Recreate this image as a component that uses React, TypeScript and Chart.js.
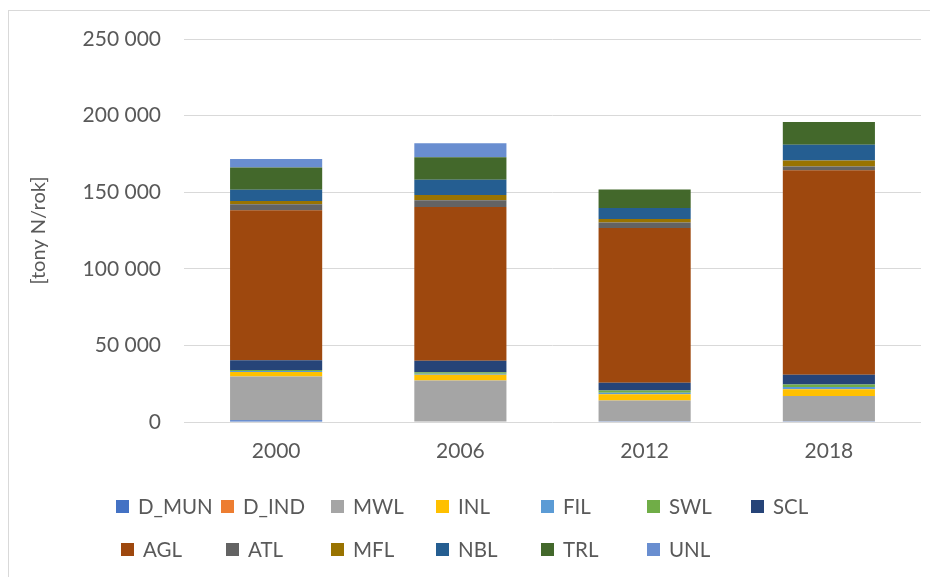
import React, { useEffect, useRef } from 'react';
import { Chart, registerables } from 'chart.js';

Chart.register(...registerables);

const years = ['2000', '2006', '2012', '2018'];
const seriesNames = ['D_MUN', 'D_IND', 'MWL', 'INL', 'FIL', 'SWL', 'SCL', 'AGL', 'ATL', 'MFL', 'NBL', 'TRL', 'UNL'];
const seriesColors = ['#4472C4', '#ED7D31', '#A5A5A5', '#FFC000', '#5B9BD5', '#70AD47', '#264478', '#9E480E', '#636363', '#997300', '#255E91', '#43682B', '#698ED0'];

const D_MUN = [1200, 300, 500, 500];
const D_IND = [0, 0, 0, 0];
const MWL = [28500, 26800, 13500, 16500];
const INL = [3000, 3700, 4100, 4350];
const FIL = [600, 700, 1000, 1500];
const SWL = [700, 1000, 1400, 1700];
const SCL = [6300, 7400, 5200, 6300];
const AGL = [97900, 100500, 100900, 133400];
const ATL = [3900, 4350, 3700, 2600];
const MFL = [2150, 3500, 2200, 3900];
const NBL = [7400, 9800, 7200, 10200];
const TRL = [14400, 14800, 12000, 14800];
const UNL = [5700, 9100, 0, 0];
const seriesValues = [D_MUN, D_IND, MWL, INL, FIL, SWL, SCL, AGL, ATL, MFL, NBL, TRL, UNL];

const yMin = 0;
const yMax = 250000;
const yStep = 50000;
const yTitle = '[tony N/rok]';

const FONT = 'Lato, "Open Sans", sans-serif';
const TEXT = '#595959';

const fmt = (v: number) => String(v).replace(/\B(?=(\d{3})+(?!\d))/g, ' ');

// legend layout (canvas coordinates)
const legendRows = [
  { y: 496, xs: [107, 212, 322, 427, 532, 638, 742], items: [0, 1, 2, 3, 4, 5, 6] },
  { y: 539, xs: [112, 217, 322, 427, 532, 638], items: [7, 8, 9, 10, 11, 12] },
];

const legendPlugin = {
  id: 'gridLegend',
  afterDraw(chart: any) {
    const ctx = chart.ctx;
    ctx.save();
    ctx.font = `20.5px ${FONT}`;
    ctx.textBaseline = 'middle';
    ctx.textAlign = 'left';
    legendRows.forEach((row) => {
      row.items.forEach((idx, i) => {
        const ds = chart.data.datasets[idx];
        const x = row.xs[i];
        ctx.fillStyle = ds.backgroundColor;
        ctx.fillRect(x, row.y - 7, 13, 13);
        ctx.fillStyle = TEXT;
        ctx.fillText(ds.label, x + 22, row.y);
      });
    });
    ctx.restore();
  },
};

export default function App() {
  const ref = useRef<HTMLCanvasElement | null>(null);
  useEffect(() => {
    if (!ref.current) return;
    const chart = new Chart(ref.current, {
      type: 'bar',
      data: {
        labels: years,
        datasets: seriesNames.map((name, i) => ({
          label: name,
          data: seriesValues[i],
          backgroundColor: seriesColors[i],
          borderWidth: 0,
          barPercentage: 0.5,
          categoryPercentage: 1,
        })),
      },
      options: {
        responsive: false,
        animation: false,
        devicePixelRatio: 1,
        layout: { padding: { left: 0, top: 28, right: 17, bottom: 106 } },
        plugins: {
          legend: { display: false },
          tooltip: { enabled: false },
          title: { display: false },
        },
        scales: {
          x: {
            stacked: true,
            grid: { display: false, drawTicks: false },
            border: { display: false },
            ticks: { color: TEXT, font: { family: FONT, size: 21 }, padding: 17 },
            afterFit: (s: any) => { s.height = 51; s.paddingLeft = 0; s.paddingRight = 0; },
          },
          y: {
            stacked: true,
            min: yMin,
            max: yMax,
            grid: { color: '#D9D9D9', lineWidth: 1, drawTicks: false },
            border: { display: false },
            ticks: {
              stepSize: yStep,
              color: TEXT,
              font: { family: FONT, size: 21 },
              padding: 23,
              callback: (v: any) => fmt(Number(v)),
            },
            title: {
              display: true,
              text: yTitle,
              color: TEXT,
              font: { family: FONT, size: 20 },
              padding: { top: 18, bottom: 0 },
            },
            afterFit: (s: any) => { s.width = 175; s.paddingTop = 0; s.paddingBottom = 0; },
          },
        },
      },
      plugins: [legendPlugin],
    });
    return () => chart.destroy();
  }, []);

  return (
    <div>
      <style>{`html,body{overflow:hidden;}`}</style>
      <div
        style={{
          position: 'relative',
          top: 2,
          width: 929,
          height: 568,
          borderTop: '1px solid #D9D9D9',
          borderLeft: '1px solid #D9D9D9',
          background: '#fff',
        }}
      >
        <canvas ref={ref} width={929} height={568} style={{ display: 'block' }} />
      </div>
    </div>
  );
}
